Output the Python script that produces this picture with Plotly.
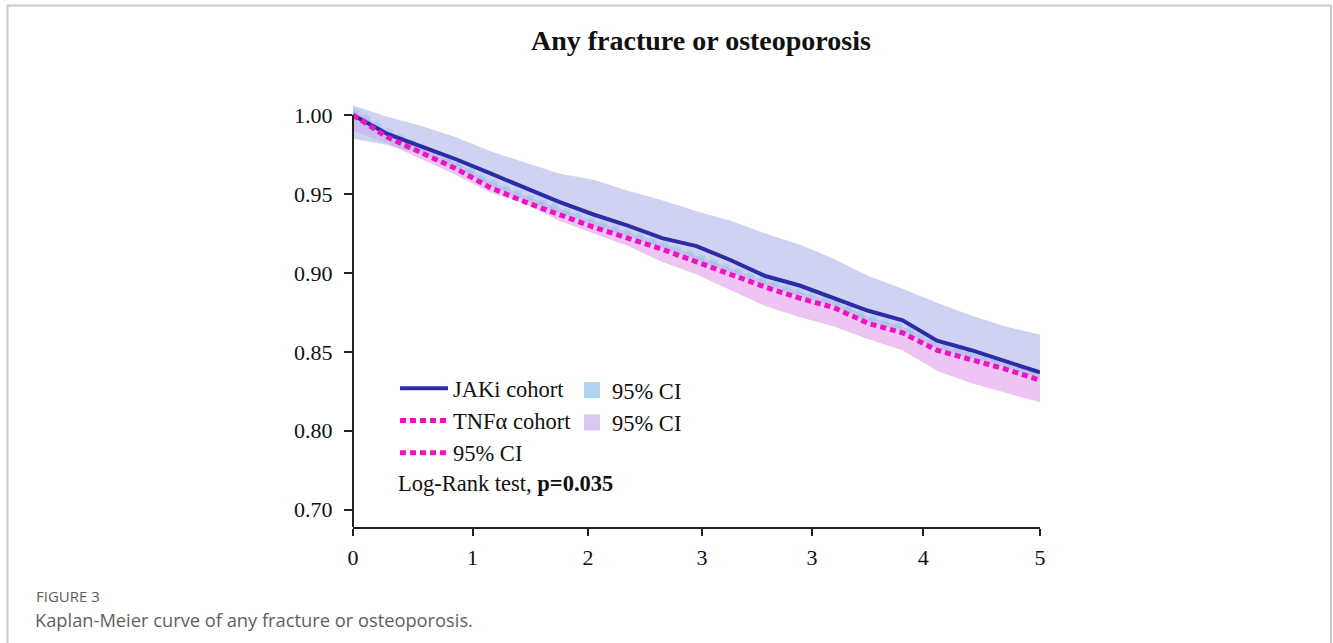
import plotly.graph_objects as go

# ---------------- data ----------------
time_years = [0, 0.25, 0.5, 0.75, 1.0, 1.25, 1.5, 1.75, 2.0, 2.25, 2.5,
              2.75, 3.0, 3.25, 3.5, 3.75, 4.0, 4.25, 4.5, 4.75, 5.0]

jaki_surv = [1.000, 0.988, 0.980, 0.972, 0.963, 0.954, 0.945, 0.937, 0.930, 0.922, 0.917,
             0.908, 0.898, 0.892, 0.884, 0.876, 0.870, 0.857, 0.851, 0.844, 0.837]
jaki_ci_upper = [1.006, 0.999, 0.993, 0.986, 0.977, 0.970, 0.963, 0.959, 0.952, 0.946, 0.939,
                 0.933, 0.925, 0.918, 0.909, 0.898, 0.890, 0.881, 0.873, 0.866, 0.861]
jaki_ci_lower = [0.985, 0.981, 0.975, 0.966, 0.955, 0.946, 0.938, 0.930, 0.923, 0.916, 0.908,
                 0.900, 0.892, 0.885, 0.879, 0.869, 0.863, 0.852, 0.846, 0.840, 0.833]

tnf_surv = [1.000, 0.986, 0.976, 0.966, 0.954, 0.945, 0.937, 0.929, 0.922, 0.915, 0.907,
            0.899, 0.891, 0.884, 0.878, 0.868, 0.862, 0.851, 0.845, 0.839, 0.832]
tnf_ci_upper = [1.004, 0.990, 0.980, 0.970, 0.958, 0.949, 0.941, 0.933, 0.926, 0.919, 0.911,
                0.903, 0.895, 0.888, 0.882, 0.872, 0.866, 0.855, 0.849, 0.843, 0.836]
tnf_ci_lower = [0.990, 0.982, 0.972, 0.962, 0.951, 0.944, 0.933, 0.925, 0.917, 0.907, 0.899,
                0.889, 0.879, 0.872, 0.866, 0.858, 0.851, 0.838, 0.830, 0.824, 0.818]

x_tickvals = [0, 0.87, 1.71, 2.54, 3.34, 4.15, 5]
x_ticktext = ["0", "1", "2", "3", "3", "4", "5"]
y_tickvals = [0.75, 0.80, 0.85, 0.90, 0.95, 1.00]
y_ticktext = ["0.70", "0.80", "0.85", "0.90", "0.95", "1.00"]

title_text = "Any fracture or osteoporosis"
logrank_text = "Log-Rank test, <b>p=0.035</b>"
fig_label = "FIGURE 3"
caption_text = "Kaplan-Meier curve of any fracture or osteoporosis."

# ---------------- layout geometry ----------------
W, H = 1333, 643
PL, PR, PT, PB = 353, 1040, 104, 527  # plot area in pixels


def px_x(p):
    return (p - PL) / (PR - PL)


def px_y(p):
    return (PB - p) / (PB - PT)


SERIF = "Liberation Serif"
NAVY = "#2b2ca6"
MAGENTA = "#ee12c4"

fig = go.Figure()

# TNF CI band (pink)
fig.add_trace(go.Scatter(x=time_years, y=tnf_ci_lower, mode="lines",
                         line=dict(width=0), showlegend=False, hoverinfo="skip"))
fig.add_trace(go.Scatter(x=time_years, y=tnf_ci_upper, mode="lines",
                         line=dict(width=0), fill="tonexty",
                         fillcolor="rgba(226,160,234,0.62)",
                         showlegend=False, hoverinfo="skip"))
# JAKi CI band (lavender)
fig.add_trace(go.Scatter(x=time_years, y=jaki_ci_lower, mode="lines",
                         line=dict(width=0), showlegend=False, hoverinfo="skip"))
fig.add_trace(go.Scatter(x=time_years, y=jaki_ci_upper, mode="lines",
                         line=dict(width=0), fill="tonexty",
                         fillcolor="rgba(178,184,232,0.62)",
                         showlegend=False, hoverinfo="skip"))

# faint teal dashes between the curves
fig.add_trace(go.Scatter(x=time_years, y=tnf_ci_upper, mode="lines",
                         line=dict(color="rgba(130,200,230,0.45)", width=5, dash="7px,6px"),
                         showlegend=False, hoverinfo="skip"))

# survival curves
fig.add_trace(go.Scatter(x=time_years, y=jaki_surv, mode="lines", name="JAKi cohort",
                         line=dict(color=NAVY, width=4), legend="legend"))
fig.add_trace(go.Scatter(x=time_years, y=tnf_surv, mode="lines", name="TNF\u03b1 cohort",
                         line=dict(color=MAGENTA, width=5, dash="6px,4px"),
                         legend="legend"))

# legend-only entries
fig.add_trace(go.Scatter(x=[None], y=[None], mode="lines", name="95% CI",
                         line=dict(color=MAGENTA, width=5, dash="6px,4px"),
                         legend="legend"))
fig.add_trace(go.Scatter(x=[None], y=[None], mode="markers", name="95% CI",
                         marker=dict(symbol="square", size=16, color="#acd4f2"),
                         legend="legend2"))
fig.add_trace(go.Scatter(x=[None], y=[None], mode="markers", name="95% CI",
                         marker=dict(symbol="square", size=16, color="#d7c8f2"),
                         legend="legend2"))

axis_font = dict(family=SERIF, size=22, color="#111")

fig.update_layout(
    width=W, height=H,
    margin=dict(l=PL, r=W - PR, t=PT, b=H - PB, pad=0),
    paper_bgcolor="white", plot_bgcolor="white",
    font=dict(family=SERIF, size=22, color="#111"),
    xaxis=dict(range=[0, 5], tickvals=x_tickvals, ticktext=x_ticktext,
               showgrid=False, zeroline=False, showline=True, linecolor="#222",
               linewidth=2, ticks="outside", ticklen=7, tickwidth=2, tickcolor="#222",
               tickfont=axis_font, ticklabelstandoff=3),
    yaxis=dict(range=[0.739, 1.007], tickvals=y_tickvals, ticktext=y_ticktext,
               showgrid=False, zeroline=False, showline=False,
               ticks="outside", ticklen=8, tickwidth=2, tickcolor="#222",
               tickfont=axis_font, ticklabelstandoff=7),
    legend=dict(x=px_x(395), y=px_y(367), xanchor="left", yanchor="top",
                bgcolor="rgba(0,0,0,0)", itemwidth=48, tracegroupgap=0,
                traceorder="normal",
                font=dict(family=SERIF, size=22.5, color="#111")),
    legend2=dict(x=px_x(572), y=px_y(369), xanchor="left", yanchor="top",
                 bgcolor="rgba(0,0,0,0)", itemwidth=30, tracegroupgap=0,
                 traceorder="normal",
                 font=dict(family=SERIF, size=22.5, color="#111")),
    showlegend=True,
)

# y axis line (from bottom of range up to 1.00)
fig.add_shape(type="line", xref="x domain", yref="y", x0=0, x1=0,
              y0=0.739, y1=1.0, line=dict(color="#222", width=2))

# panel border (top, left, right; open at bottom)
fig.add_shape(type="path", xref="paper", yref="paper",
              path=(f"M {px_x(7.5)},{px_y(700)} L {px_x(7.5)},{px_y(5.5)} "
                    f"L {px_x(1331)},{px_y(5.5)} L {px_x(1331)},{px_y(700)}"),
              line=dict(color="#c9c9d2", width=2))

fig.add_annotation(text=f"<b>{title_text}</b>", xref="paper", yref="paper",
                   x=px_x(701), y=px_y(41), xanchor="center", yanchor="middle",
                   showarrow=False, font=dict(family=SERIF, size=28, color="#111"))
fig.add_annotation(text=logrank_text, xref="paper", yref="paper",
                   x=px_x(396), y=px_y(483), xanchor="left", yanchor="middle",
                   showarrow=False, font=dict(family=SERIF, size=22.5, color="#111"))
fig.add_annotation(text=fig_label, xref="paper", yref="paper",
                   x=px_x(34), y=px_y(596), xanchor="left", yanchor="middle",
                   showarrow=False, font=dict(family="Open Sans", size=15, color="#5c5c5c"))
fig.add_annotation(text=caption_text, xref="paper", yref="paper",
                   x=px_x(33), y=px_y(619), xanchor="left", yanchor="middle",
                   showarrow=False, font=dict(family="Open Sans", size=18.3, color="#5f5f5f"))

# remove the default page margin so the figure sits at the window origin
fig.write_html("out.html",
               config={"displayModeBar": False},
               post_script="document.body.style.margin='0';document.body.style.overflow='hidden';")
